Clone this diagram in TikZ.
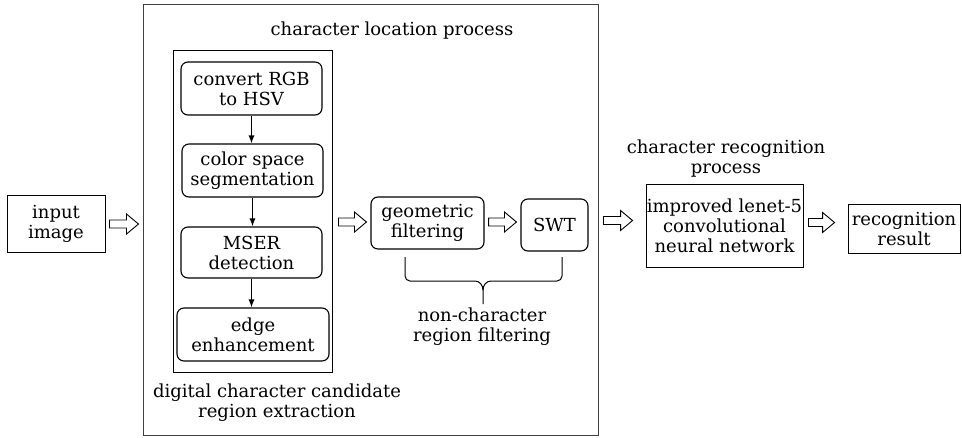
\documentclass[tikz,border=0pt]{standalone}
\usepackage{fontspec}
\setmainfont{DejaVu Serif}
\usetikzlibrary{arrows.meta,calc}
\newcommand\hollowarrow[2]{\draw[harrow] let \p1=(#1), \p2=(#2) in
  (\x1,\y1+4) -- (\x2-12,\y1+4) -- (\x2-12,\y1+10) -- (\x2,\y1) -- (\x2-12,\y1-10) -- (\x2-12,\y1-4) -- (\x1,\y1-4) -- cycle;}
\begin{document}
\begin{tikzpicture}[x=1pt,y=-1pt,
  every node/.style={font=\fontsize{18}{20}\selectfont, inner sep=0pt, align=center},
  sqbox/.style={draw, line width=0.9pt},
  rbox/.style={draw, line width=1.1pt, rounded corners=7pt},
  harrow/.style={line width=0.9pt, line join=miter},
  vline/.style={line width=1.1pt, -{Latex[length=8pt,width=6pt]}}]
\useasboundingbox (0,0) rectangle (962,437);
\node[sqbox, minimum width=98pt, minimum height=57pt] (input) at (56,224) {input\\image};
\node[draw, line width=1pt, draw=black!75, minimum width=455pt, minimum height=431pt] (big) at (370.5,219.5) {};
\node (loc) at (392,31) {character location process};
\node[sqbox, minimum width=159pt, minimum height=322pt] (inner) at (252.5,211) {};
\node[rbox, minimum width=141pt, minimum height=53pt] (n1) at (251.5,88.5) {convert RGB\\to HSV};
\node[rbox, minimum width=141pt, minimum height=53pt] (n2) at (252.5,170.5) {color space\\segmentation};
\node[rbox, minimum width=141pt, minimum height=51pt] (n3) at (251.5,252.5) {MSER\\detection};
\node[rbox, minimum width=152pt, minimum height=53pt] (n4) at (253,334.5) {edge\\enhancement};
\node (dig) at (277,403) {digital character candidate\\region extraction};
\node[rbox, minimum width=113pt, minimum height=52pt] (geo) at (427.5,223) {geometric\\filtering};
\node[rbox, minimum width=67pt, minimum height=52pt] (swt) at (554.5,225) {SWT};
\node (non) at (482,327) {non-character\\region filtering};
\node (rec) at (726,159) {character recognition\\process};
\node[sqbox, minimum width=157pt, minimum height=83pt] (cnn) at (724.5,225.5) {improved lenet-5\\convolutional\\neural network};
\node[sqbox, minimum width=112pt, minimum height=49pt] (res) at (904,228.5) {recognition\\result};
% vertical arrows
\draw[vline] (n1.south) -- (n1.south |- n2.north);
\draw[vline] (n2.south) -- (n2.south |- n3.north);
\draw[vline] (n3.south) -- (n3.south |- n4.north);
% hollow arrows
\coordinate (a1s) at ($(input.east)+(4,0)$);
\coordinate (a1e) at ($(big.west |- input.east)+(-4,0)$);
\coordinate (a2s) at ($(inner.east |- geo.west)+(6,-1)$);
\coordinate (a2e) at ($(geo.west)+(-4,-1)$);
\coordinate (a3s) at ($(geo.east)+(4,-1)$);
\coordinate (a3e) at ($(swt.west |- geo.east)+(-4,-1)$);
\coordinate (a4s) at ($(big.east |- cnn.west)+(5,-5)$);
\coordinate (a4e) at ($(cnn.west)+(-13,-5)$);
\coordinate (a5s) at ($(cnn.east)+(5,-3)$);
\coordinate (a5e) at ($(res.west |- cnn.east)+(-13,-3)$);
\hollowarrow{a1s}{a1e}
\hollowarrow{a2s}{a2e}
\hollowarrow{a3s}{a3e}
\hollowarrow{a4s}{a4e}
\hollowarrow{a5s}{a5e}
% brace
\coordinate (bl) at (405,257);
\coordinate (br) at (562,257);
\coordinate (bt) at (483,304);
\draw[line width=1pt] (bl) -- (405,276) to[out=-90,in=180] (410,281) -- (475,281) to[out=0,in=90] (483,290) -- (bt);
\draw[line width=1pt] (br) -- (562,276) to[out=-90,in=0] (557,281) -- (491,281) to[out=180,in=90] (483,290);
\end{tikzpicture}
\end{document}
